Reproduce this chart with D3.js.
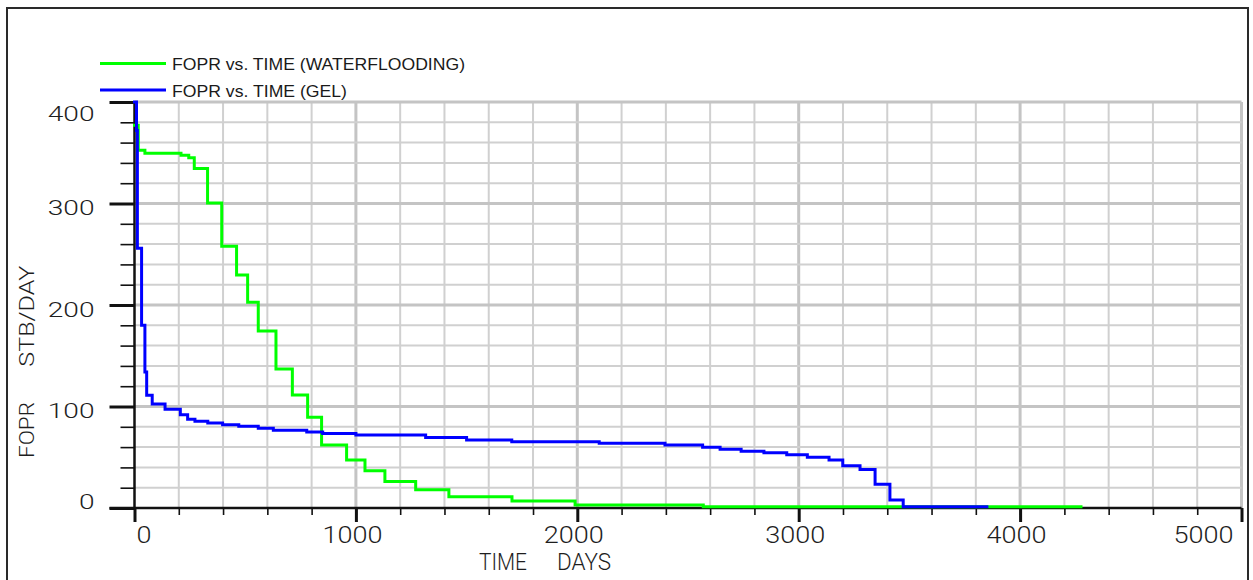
<!DOCTYPE html>
<html>
<head>
<meta charset="utf-8">
<script src="https://cdn.jsdelivr.net/npm/d3@7"></script>
<style>
  html, body { margin: 0; padding: 0; background: #fff; }
  svg { display: block; }
  text { font-family: "Liberation Sans", Arial, sans-serif; fill: #1a1a1a; }
  .thin { font-family: "Roboto", "Liberation Sans", sans-serif; font-weight: 300; fill: #1e1e1e; }
</style>
</head>
<body>
<svg id="chart" width="1253" height="580"></svg>
<script>
// Field oil production rate (STB/DAY) against time (days), step data
const waterTimes = [0, 17, 47, 210, 245, 270, 330, 394, 461, 511, 559, 639, 713, 782, 845, 958, 1041, 1131, 1270, 1420, 1705, 1990, 2569, 4275];
const waterRates = [377, 352.5, 349.5, 347.5, 345, 334.5, 300.5, 258, 229.5, 202.7, 174.4, 137, 111.3, 89.5, 62, 47.3, 36.8, 26, 18, 11, 7, 3, 1.3, 1.3];

const gelTimes = [0, 9, 13, 32, 47, 55, 80, 138, 207, 240, 273, 331, 398, 471, 559, 627, 778, 850, 1000, 1315, 1500, 1704, 2099, 2396, 2566, 2645, 2740, 2843, 2946, 3039, 3137, 3199, 3277, 3345, 3412, 3472, 3850];
const gelRates = [400, 372, 256, 180, 134, 111, 102.5, 97.4, 91.8, 87.4, 85.5, 83.7, 82, 80.5, 78.5, 76.5, 75, 73.3, 71.8, 69.5, 67, 65.3, 63.7, 62, 59.8, 57.8, 56, 54.5, 52.5, 50, 47.3, 41.7, 38, 23.3, 7.9, 1.3, 1.3];

const xMajorTicks = [0, 1000, 2000, 3000, 4000, 5000];
const yMajorTicks = [0, 100, 200, 300, 400];
const seriesNames = ["FOPR vs. TIME (WATERFLOODING)", "FOPR vs. TIME (GEL)"];
const seriesColors = ["#00ff00", "#0000ff"];
const xTitle = ["TIME", "DAYS"];
const yTitle = ["FOPR", "STB/DAY"];

const svg = d3.select("#chart");

const x = d3.scaleLinear().domain([0, 5000]).range([134.5, 1241.5]);
const y = d3.scaleLinear().domain([0, 400]).range([508, 102]);

// outer frame
svg.append("rect")
  .attr("x", 7).attr("y", 8).attr("width", 1241).attr("height", 600)
  .attr("fill", "none").attr("stroke", "#2a2a2a").attr("stroke-width", 2);

// grid
const grid = svg.append("g");
const xGrid = d3.range(200, 5001, 200);
const yGrid = d3.range(20, 401, 20);
grid.selectAll("line.vx").data(xGrid).join("line")
  .attr("x1", d => x(d)).attr("x2", d => x(d))
  .attr("y1", y(0)).attr("y2", y(400))
  .attr("stroke", d => d % 1000 === 0 ? "#c4c4c4" : "#d0d0d0")
  .attr("stroke-width", d => d % 1000 === 0 ? 3 : 2);
grid.selectAll("line.hy").data(yGrid).join("line")
  .attr("y1", d => y(d)).attr("y2", d => y(d))
  .attr("x1", x(0)).attr("x2", x(5000))
  .attr("stroke", d => d % 100 === 0 ? "#c4c4c4" : "#d0d0d0")
  .attr("stroke-width", d => d % 100 === 0 ? 3 : 2);

// axes
const axisG = svg.append("g");

// y minor ticks
axisG.append("g").attr("transform", `translate(${x(0)},0)`)
  .call(d3.axisLeft(y).tickValues(d3.range(0, 401, 20)).tickSize(14).tickFormat(""))
  .call(g => g.select(".domain").remove())
  .call(g => g.selectAll(".tick line").attr("stroke", "#111").attr("stroke-width", 1.6));

// y major ticks with labels
axisG.append("g").attr("transform", `translate(${x(0)},0)`)
  .call(d3.axisLeft(y).tickValues(yMajorTicks).tickSize(25).tickPadding(15).tickFormat(d3.format("d")))
  .call(g => g.select(".domain").attr("stroke", "#111").attr("stroke-width", 2.5)
      .attr("d", `M0,${y(0)}V${y(400)}`))
  .call(g => g.selectAll(".tick line").attr("stroke", "#111").attr("stroke-width", 3))
  .call(g => g.selectAll(".tick text")
      .attr("class", "thin")
      .attr("font-family", null)
      .attr("fill", null)
      .attr("font-size", 21)
      .attr("dy", d => d === 0 ? "0px" : (d === 400 ? "18px" : "11px"))
      .attr("textLength", function() { return this.textContent.length * 15.6; })
      .attr("lengthAdjust", "spacingAndGlyphs"));

// x minor ticks
axisG.append("g").attr("transform", `translate(0,${y(0)})`)
  .call(d3.axisBottom(x).tickValues(d3.range(0, 5001, 200)).tickSize(7).tickFormat(""))
  .call(g => g.select(".domain").remove())
  .call(g => g.selectAll(".tick line").attr("stroke", "#111").attr("stroke-width", 1.6));

// x major ticks with labels
axisG.append("g").attr("transform", `translate(0,${y(0)})`)
  .call(d3.axisBottom(x).tickValues(xMajorTicks).tickSize(14).tickFormat(d3.format("d")))
  .call(g => g.select(".domain").attr("stroke", "#111").attr("stroke-width", 2.5)
      .attr("d", `M${x(0) - 25},0H${x(5000)}`))
  .call(g => g.selectAll(".tick line").attr("stroke", "#111").attr("stroke-width", 3))
  .call(g => g.selectAll(".tick text")
      .attr("class", "thin")
      .attr("font-family", null)
      .attr("fill", null)
      .attr("font-size", 23)
      .attr("y", 35).attr("dy", 0)
      .attr("text-anchor", d => d === 0 ? "start" : (d === 5000 ? "end" : "middle"))
      .attr("dx", d => d === 0 ? 1.5 : (d === 5000 ? -8.5 : -4))
      .attr("textLength", function() { return this.textContent.length * 15; })
      .attr("lengthAdjust", "spacingAndGlyphs"));

// axis titles
svg.append("text").attr("class", "thin").attr("x", 479).attr("y", 569.5)
  .attr("font-size", 24).attr("textLength", 48).attr("lengthAdjust", "spacingAndGlyphs")
  .text(xTitle[0]);
svg.append("text").attr("class", "thin").attr("x", 557).attr("y", 569.5)
  .attr("font-size", 24).attr("textLength", 54).attr("lengthAdjust", "spacingAndGlyphs")
  .text(xTitle[1]);
svg.append("text").attr("class", "thin").attr("transform", "translate(33.5,458) rotate(-90)")
  .attr("font-size", 21).attr("textLength", 56).attr("lengthAdjust", "spacingAndGlyphs")
  .text(yTitle[0]);
svg.append("text").attr("class", "thin").attr("transform", "translate(33.5,366.7) rotate(-90)")
  .attr("font-size", 21).attr("textLength", 101).attr("lengthAdjust", "spacingAndGlyphs")
  .text(yTitle[1]);

// curves
svg.append("clipPath").attr("id", "plotClip")
  .append("rect").attr("x", x(0) - 2).attr("y", y(400) - 2)
  .attr("width", x(5000) - x(0) + 4).attr("height", y(0) - y(400) + 4);

const line = d3.line().x(d => x(d[0])).y(d => y(d[1])).curve(d3.curveStepAfter);
const seriesData = [
  d3.zip(waterTimes, waterRates),
  d3.zip(gelTimes, gelRates)
];
svg.append("g").attr("clip-path", "url(#plotClip)")
  .selectAll("path").data(seriesData).join("path")
  .attr("d", line)
  .attr("fill", "none")
  .attr("stroke", (d, i) => seriesColors[i])
  .attr("stroke-width", 3)
  .attr("stroke-linejoin", "miter")
  .attr("stroke-linecap", "square");

// legend
const legend = svg.append("g");
const legendY = [63.5, 90];
const legendLen = [293, 175];
seriesNames.forEach((name, i) => {
  legend.append("line")
    .attr("x1", 100).attr("x2", 166)
    .attr("y1", legendY[i]).attr("y2", legendY[i])
    .attr("stroke", seriesColors[i]).attr("stroke-width", 3);
  legend.append("text")
    .attr("x", 172).attr("y", legendY[i] + 6.5)
    .attr("font-size", 16.5)
    .attr("textLength", legendLen[i]).attr("lengthAdjust", "spacingAndGlyphs")
    .attr("fill", "#222")
    .text(name);
});
</script>
</body>
</html>
